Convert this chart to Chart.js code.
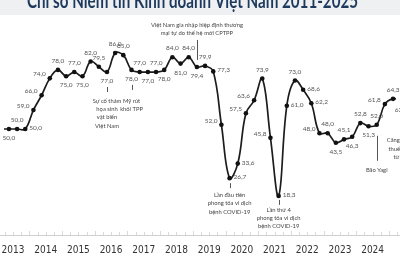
<!DOCTYPE html>
<html>
<head>
<meta charset="utf-8">
<script src="https://cdn.jsdelivr.net/npm/chart.js@4/dist/chart.umd.min.js"></script>
<style>
  html, body { margin: 0; padding: 0; background: #fff; }
  #wrap { width: 400px; height: 266px; position: relative; overflow: hidden; }
</style>
</head>
<body>
<div id="wrap"><canvas id="bciChart" width="400" height="266"></canvas></div>
<script>
// Chỉ số Niềm tin Kinh doanh (BCI) theo quý
const quarters = [
    '2013-Q1', '2013-Q2', '2013-Q3', '2013-Q4',
    '2014-Q1', '2014-Q2', '2014-Q3', '2014-Q4',
    '2015-Q1', '2015-Q2', '2015-Q3', '2015-Q4',
    '2016-Q1', '2016-Q2', '2016-Q3', '2016-Q4',
    '2017-Q1', '2017-Q2', '2017-Q3', '2017-Q4',
    '2018-Q1', '2018-Q2', '2018-Q3', '2018-Q4',
    '2019-Q1', '2019-Q2', '2019-Q3', '2019-Q4',
    '2020-Q1', '2020-Q2', '2020-Q3', '2020-Q4',
    '2021-Q1', '2021-Q2', '2021-Q3', '2021-Q4',
    '2022-Q1', '2022-Q2', '2022-Q3', '2022-Q4',
    '2023-Q1', '2023-Q2', '2023-Q3', '2023-Q4',
    '2024-Q1', '2024-Q2', '2024-Q3', '2024-Q4',
    '2025-Q1', '2025-Q2'
];
const bciValues = [
    50.0, 50.0, 50.0, 50.0,
    59.0, 66.0, 74.0, 78.0,
    75.0, 77.0, 75.0, 82.0,
    79.5, 77.0, 86.0, 85.0,
    78.0, 77.0, 77.0, 77.0,
    78.0, 84.0, 81.0, 84.0,
    79.4, 79.9, 77.3, 52.0,
    26.7, 33.6, 57.5, 63.6,
    73.9, 45.8, 18.3, 61.0,
    73.0, 68.6, 62.2, 48.0,
    48.0, 43.5, 45.1, 46.3,
    52.8, 51.3, 52.0, 61.8,
    64.3, 63.5
];
// where each value label sits: t = above, b = below, l = left, r = right, '' = none
const labelSide = [
    '', 'b', 't', 'r',
    'l', 'l', 'l', 't',
    'b', 't', 'b', 't',
    't', 'b', 't', 't',
    'b', 't', 'b', 't',
    'b', 't', 'b', 't',
    'b', 't', 'r', 'l',
    'r', 'r', 'l', 'l',
    't', 'l', 'r', 'r',
    't', 'r', 'r', 'l',
    't', 'b', 't', 'b',
    't', 'b', 't', 'l',
    't', 'b'
];
const years = [2013, 2014, 2015, 2016, 2017, 2018, 2019, 2020, 2021, 2022, 2023, 2024];
const chartTitle = 'Chỉ số Niềm tin Kinh doanh Việt Nam 2011-2025';

// event notes: tick from/to and first text line, in px from the point
const notes = [
    { at: '2016-Q2', lines: ['Sự cố thảm', 'họa sinh', 'vật biển', 'Việt Nam'], tick: [15, 20], text: 29 },
    { at: '2017-Q1', lines: ['Mỹ rút', 'khỏi TPP'], tick: [15, 20], text: 31 },
    { at: '2019-Q1', lines: ['Việt Nam gia nhập hiệp định thương', 'mại tự do thế hệ mới CPTPP'], tick: [-27, -7], text: -42 },
    { at: '2020-Q1', lines: ['Lần đầu tiên', 'phong tỏa vì dịch', 'bệnh COVID-19'], tick: [5, 10], text: 17 },
    { at: '2021-Q3', lines: ['Lần thứ 4', 'phong tỏa vì dịch', 'bệnh COVID-19'], tick: [4, 9], text: 14 },
    { at: '2024-Q3', lines: ['Bão Yagi'], tick: [11, 36], text: 45 },
    { at: '2025-Q2', lines: ['Căng thẳng', 'thuế quan', 'từ Mỹ'], tick: [14, 32], text: 40 }
];

function quarterToNum(q) {
    const [y, qq] = q.split('-Q');
    return Number(y) + (Number(qq) - 0.5) / 4;
}

const LABEL_FONT = '6.5px Lato, "Open Sans", sans-serif';
const NOTE_FONT = '5.8px Lato, "Open Sans", sans-serif';
const YEAR_FONT = '10px "Liberation Sans Narrow", "DejaVu Sans Condensed", sans-serif';

const decorPlugin = {
    id: 'decor',
    beforeDraw(chart) {
        const ctx = chart.ctx;
        ctx.save();
        ctx.fillStyle = '#eef0f2';
        ctx.fillRect(0, 0, chart.width, 15);
        // title, only its lower half shows in the frame
        ctx.font = 'bold 21px Lato, "Open Sans", sans-serif';
        const w = ctx.measureText(chartTitle).width;
        ctx.translate(192.5, 8);
        ctx.scale(331 / w, 1);
        ctx.fillStyle = '#1d3a5e';
        ctx.textAlign = 'center';
        ctx.textBaseline = 'alphabetic';
        ctx.fillText(chartTitle, 0, 0);
        ctx.restore();
    },
    afterDraw(chart) {
        const ctx = chart.ctx;
        const xs = chart.scales.x;
        const ys = chart.scales.y;
        const y0 = ys.getPixelForValue(0);
        ctx.save();

        // x axis
        ctx.strokeStyle = '#cfcfcf';
        ctx.lineWidth = 1;
        ctx.beginPath();
        ctx.moveTo(0, Math.round(y0) + 0.5);
        ctx.lineTo(chart.width, Math.round(y0) + 0.5);
        ctx.stroke();
        ctx.strokeStyle = '#d8d8d8';
        years.concat([2025]).forEach(yr => {
            for (let k = 0; k < 4; k++) {
                const px = Math.round(xs.getPixelForValue(yr + k / 4)) + 0.5;
                ctx.beginPath();
                ctx.moveTo(px, Math.round(y0) - (k === 0 ? 4 : 3));
                ctx.lineTo(px, Math.round(y0));
                ctx.stroke();
            }
        });
        ctx.fillStyle = '#333';
        ctx.font = YEAR_FONT;
        ctx.textAlign = 'center';
        ctx.textBaseline = 'middle';
        years.forEach(yr => {
            ctx.fillText(String(yr), xs.getPixelForValue(yr + 0.5), 250);
        });

        // value labels
        const meta = chart.getDatasetMeta(0);
        ctx.font = LABEL_FONT;
        ctx.fillStyle = '#555';
        meta.data.forEach((pt, i) => {
            const side = labelSide[i];
            if (!side) return;
            const txt = bciValues[i].toFixed(1).replace('.', ',');
            let x = pt.x, y = pt.y;
            if (side === 't') { ctx.textAlign = 'center'; y -= 9; }
            else if (side === 'b') { ctx.textAlign = 'center'; y += 9; }
            else if (side === 'l') { ctx.textAlign = 'right'; x -= 4; y -= 4; }
            else { ctx.textAlign = 'left'; x += 4; y -= 1; }
            ctx.fillText(txt, x, y);
        });

        // event notes
        ctx.font = NOTE_FONT;
        ctx.fillStyle = '#444';
        ctx.strokeStyle = '#555';
        ctx.textAlign = 'center';
        notes.forEach(n => {
            const i = quarters.indexOf(n.at);
            const pt = meta.data[i];
            const px = Math.round(pt.x) + 0.5;
            ctx.beginPath();
            ctx.moveTo(px, pt.y + n.tick[0]);
            ctx.lineTo(px, pt.y + n.tick[1]);
            ctx.stroke();
            n.lines.forEach((ln, j) => {
                ctx.fillText(ln, pt.x, pt.y + n.text + j * 8.3);
            });
        });
        ctx.restore();
    }
};

new Chart(document.getElementById('bciChart'), {
    type: 'line',
    data: {
        datasets: [{
            data: quarters.map((q, i) => ({ x: quarterToNum(q), y: bciValues[i] })),
            borderColor: '#1c1c1c',
            borderWidth: 1.7,
            pointRadius: 2.3,
            pointBackgroundColor: '#111',
            pointBorderWidth: 0,
            tension: 0.4
        }]
    },
    options: {
        responsive: false,
        animation: false,
        layout: { padding: { top: 23.5, bottom: 31.5, left: 0, right: 0 } },
        scales: {
            x: { type: 'linear', min: 2013.225, max: 2025.215, display: false },
            y: { min: 0, max: 100, display: false }
        },
        plugins: { legend: { display: false }, tooltip: { enabled: false } }
    },
    plugins: [decorPlugin]
});
</script>
</body>
</html>
